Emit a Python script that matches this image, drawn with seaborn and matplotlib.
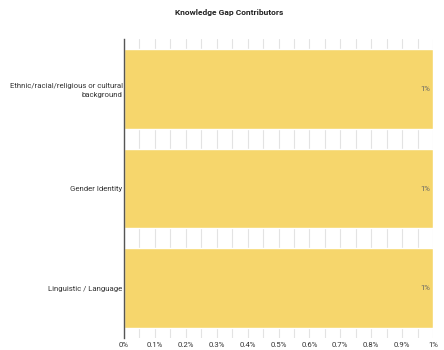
import matplotlib
matplotlib.use("Agg")
import matplotlib.pyplot as plt
import seaborn as sns
import pandas as pd
from matplotlib.ticker import MultipleLocator, FuncFormatter

categories = ["Ethnic/racial/religious or cultural\nbackground", "Gender Identity", "Linguistic / Language"]
values = [0.01, 0.01, 0.01]
value_labels = ["1%", "1%", "1%"]
title = "Knowledge Gap Contributors"

sns.set_theme(style="white")
plt.rcParams["font.family"] = ["Roboto", "DejaVu Sans"]

df = pd.DataFrame({"category": categories, "value": values})

fig = plt.figure(figsize=(4.44, 3.5), dpi=100)
ax = fig.add_axes([124/444, 1-338/350, 309/444, 299/350])

sns.barplot(data=df, y="category", x="value", orient="h", color="#F6D66C",
            saturation=1, width=0.8, ax=ax)

ax.set_xlim(0, 0.01)
ax.set_ylim(2.5, -0.5)
ax.xaxis.set_major_locator(MultipleLocator(0.001))
ax.xaxis.set_minor_locator(MultipleLocator(0.0005))
ax.xaxis.set_major_formatter(FuncFormatter(lambda v, p: f"{v*100:.1f}%".replace(".0%", "%") if v > 0 else "0%"))
ax.grid(True, axis="x", which="both", color="#e3e3e3", linewidth=0.8)
ax.set_axisbelow(True)
for s in ["top", "right", "bottom"]:
    ax.spines[s].set_visible(False)
ax.spines["left"].set_color("#555555")
ax.spines["left"].set_linewidth(1)
ax.tick_params(axis="both", which="both", length=0, labelsize=5.6, colors="#333333", pad=1)
ax.tick_params(axis="x", pad=3)
for t in ax.get_yticklabels():
    t.set_linespacing(1.5)
ax.set_xlabel("")
ax.set_ylabel("")

for i, (v, lab) in enumerate(zip(values, value_labels)):
    ax.text(v - 0.0001, i, lab, ha="right", va="center", fontsize=5.6, color="#666666")

fig.text(229/444, 1-12/350, title, ha="center", va="center", fontsize=6, fontweight="bold", color="#222222")

fig.savefig("out.png", dpi=100)
